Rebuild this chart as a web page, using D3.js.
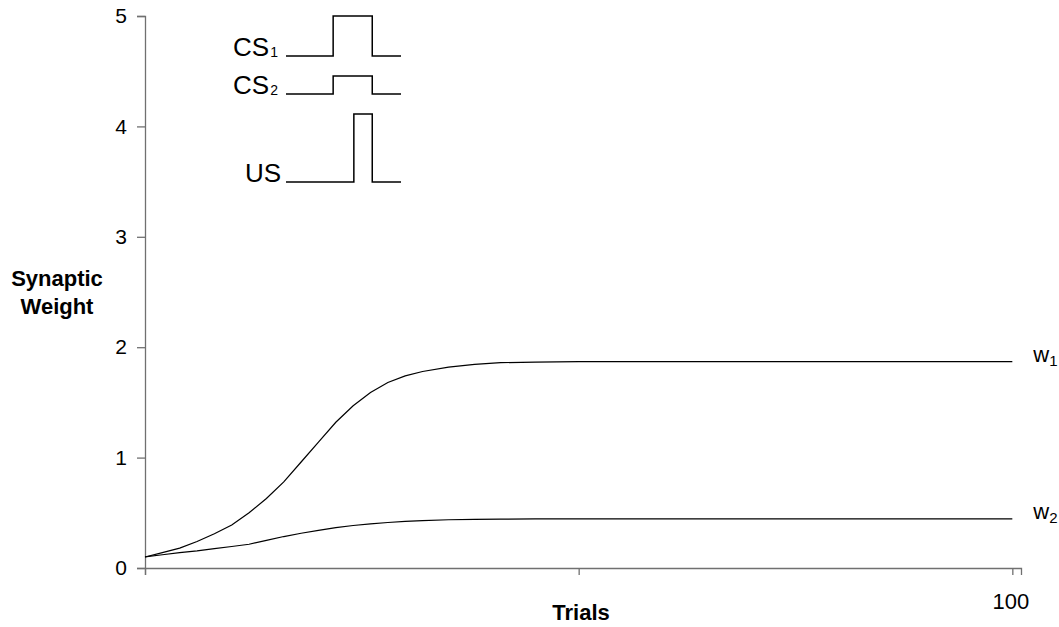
<!DOCTYPE html>
<html>
<head>
<meta charset="utf-8">
<script src="https://cdn.jsdelivr.net/npm/d3@7"></script>
<style>
  body { margin: 0; background: #fff; }
  svg { font-family: "Liberation Sans", Arial, sans-serif; }
  .axis path, .axis line { stroke: #707070; stroke-width: 1.3; }
  .axis text { fill: #000; font-size: 21px; }
  .axis.xaxis text { font-size: 22px; }
  .title { font-weight: bold; font-size: 22px; fill: #000; }
  .curve { fill: none; stroke: #000; stroke-width: 1.2; }
  .stim { fill: none; stroke: #000; stroke-width: 1.5; }
</style>
</head>
<body>
<script>
// canvas
var w = 1059;
var h = 627;

// plot box
var xLeft = 145;
var xRight = 1021;
var yTop = 16;
var yBot = 568;

// data
var trials = [0, 2, 4, 6, 8, 10, 12, 14, 16, 18, 20, 22, 24, 26, 28, 30, 32, 35, 38, 41, 45, 50, 60, 70, 80, 90, 100];
var w1 = [0.10, 0.14, 0.18, 0.24, 0.31, 0.39, 0.50, 0.63, 0.78, 0.96, 1.14, 1.32, 1.47, 1.59, 1.68, 1.74, 1.78, 1.82, 1.845, 1.86, 1.865, 1.87, 1.87, 1.87, 1.87, 1.87, 1.87];
var w2 = [0.10, 0.12, 0.14, 0.155, 0.175, 0.195, 0.215, 0.25, 0.285, 0.315, 0.34, 0.365, 0.385, 0.40, 0.412, 0.422, 0.43, 0.437, 0.44, 0.443, 0.445, 0.445, 0.445, 0.445, 0.445, 0.445, 0.445];
var seriesNames = ["w1", "w2"];

var yTicks = [0, 1, 2, 3, 4, 5];
var xTicks = [0, 50, 100];
var xTickLabels = ["", "", "100"];

// inset stimulus diagram (time in arbitrary units, 0..10)
var stimNames = ["CS", "CS", "US"];
var stimSubs = ["1", "2", ""];
var stimOn = [4.1, 4.1, 5.9];
var stimOff = [7.5, 7.5, 7.5];
var stimAmp = [1.0, 0.45, 1.7];
var stimEnd = 10;

var svg = d3.select("body").append("svg")
    .attr("width", w)
    .attr("height", h);

var x = d3.scaleLinear().domain([0, 101]).range([xLeft, xRight]);
var y = d3.scaleLinear().domain([0, 5]).range([yBot, yTop]);

// axes
svg.append("g")
   .attr("class", "axis xaxis")
   .attr("transform", "translate(0," + yBot + ")")
   .call(d3.axisBottom(x).tickValues(xTicks)
        .tickFormat(function(d, i) { return xTickLabels[i]; })
        .tickSizeOuter(0).tickSize(7).tickPadding(18));

svg.selectAll(".xaxis .tick text").attr("dx", -2);

svg.append("g")
   .attr("class", "axis")
   .attr("transform", "translate(" + xLeft + ",0)")
   .call(d3.axisLeft(y).tickValues(yTicks).tickFormat(d3.format("d"))
        .tickSizeOuter(0).tickSize(8).tickPadding(10));

svg.selectAll(".axis .domain").attr("fill", "none");

// curves
var line = d3.line()
    .x(function(d) { return x(d[0]); })
    .y(function(d) { return y(d[1]); });

[w1, w2].forEach(function(vals, k) {
    var pts = trials.map(function(t, i) { return [t, vals[i]]; });
    svg.append("path")
       .attr("class", "curve")
       .attr("d", line(pts));

    // series label with subscript
    var last = pts[pts.length - 1];
    var lab = svg.append("text")
       .attr("x", x(last[0]) + 21)
       .attr("y", y(last[1]))
       .attr("font-size", "22px");
    lab.append("tspan").text(seriesNames[k].charAt(0));
    lab.append("tspan").attr("font-size", "15px").attr("dy", 4).text(seriesNames[k].slice(1));
});

// axis titles
svg.append("text")
   .attr("class", "title")
   .attr("text-anchor", "middle")
   .attr("x", 581)
   .attr("y", 620)
   .text("Trials");

var yt = svg.append("text")
   .attr("class", "title")
   .attr("text-anchor", "middle")
   .attr("x", 57)
   .attr("y", 286);
yt.append("tspan").attr("x", 57).text("Synaptic");
yt.append("tspan").attr("x", 57).attr("dy", 28).text("Weight");

// inset
var sx = d3.scaleLinear().domain([0, stimEnd]).range([286, 401]);
var sa = d3.scaleLinear().domain([0, 1]).range([0, 40]);
var baseY = [56, 94, 182];

stimNames.forEach(function(name, i) {
    var b = baseY[i];
    var trace = [
        [sx(0), b], [sx(stimOn[i]), b], [sx(stimOn[i]), b - sa(stimAmp[i])],
        [sx(stimOff[i]), b - sa(stimAmp[i])], [sx(stimOff[i]), b], [sx(stimEnd), b]
    ];
    svg.append("path")
       .attr("class", "stim")
       .attr("d", d3.line()(trace));

    var t = svg.append("text")
       .attr("text-anchor", "end")
       .attr("x", stimSubs[i] ? 278 : 281)
       .attr("y", b)
       .attr("font-size", "26px");
    t.append("tspan").text(name);
    if (stimSubs[i]) {
        t.append("tspan").attr("font-size", "14px").attr("dx", 1).attr("dy", 1).text(stimSubs[i]);
    }
});
</script>
</body>
</html>
